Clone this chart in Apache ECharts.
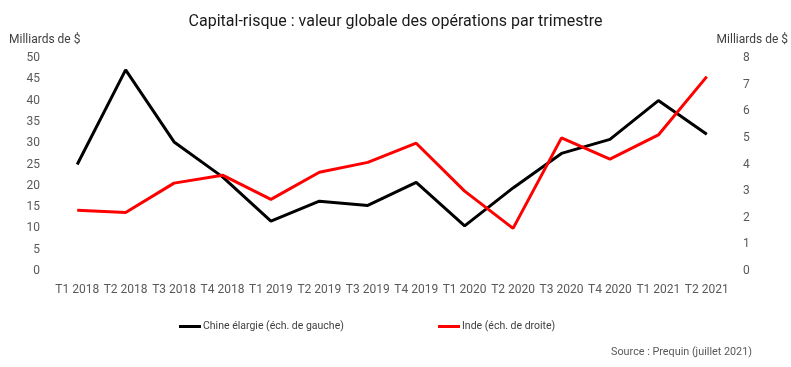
<!DOCTYPE html>
<html><head><meta charset="utf-8">
<script src="https://cdn.jsdelivr.net/npm/echarts@6/dist/echarts.min.js"></script>
<style>html,body{margin:0;padding:0;background:#fff}#c{width:791px;height:367px}</style>
</head><body><div id="c"></div>
<script>
const categories = ["T1 2018","T2 2018","T3 2018","T4 2018","T1 2019","T2 2019","T3 2019","T4 2019","T1 2020","T2 2020","T3 2020","T4 2020","T1 2021","T2 2021"];
const chineValues = [25, 47.2, 30.3, 22.1, 11.7, 16.4, 15.4, 20.8, 10.6, 19.5, 27.6, 30.9, 40.0, 32.1];
const indeValues = [2.28, 2.2, 3.3, 3.6, 2.69, 3.71, 4.08, 4.8, 3.0, 1.6, 5.0, 4.2, 5.11, 7.3];
const leftTicks = [0,5,10,15,20,25,30,35,40,45,50];
const rightTicks = [0,1,2,3,4,5,6,7,8];
const font = "Roboto, 'Liberation Sans', Arial, sans-serif";
const chart = echarts.init(document.getElementById('c'));
chart.setOption({
  animation:false,
  textStyle:{fontFamily:font},
  title:{text:"Capital-risque : valeur globale des opérations par trimestre", left:'center', top:9,
    textStyle:{fontSize:16, fontWeight:'normal', color:'#1a1a1a', fontFamily:font}},
  grid:{left:53, right:57, top:58, bottom:96},
  legend:[
    {data:["Chine élargie (éch. de gauche)"], left:174, top:316, itemWidth:22, itemHeight:3, itemGap:0, icon:'rect',
      textStyle:{fontSize:10.5, color:'#404040', fontFamily:font, padding:[0,0,0,-3]}},
    {data:["Inde (éch. de droite)"], left:433, top:316, itemWidth:22, itemHeight:3, icon:'rect',
      textStyle:{fontSize:10.5, color:'#404040', fontFamily:font, padding:[0,0,0,-3]}}
  ],
  graphic:[{type:'text', right:39, top:347, style:{text:"Source : Prequin (juillet 2021)", fontSize:10.8, fill:'#595959', fontFamily:font}}],
  xAxis:{type:'category', data:categories, boundaryGap:true,
    axisLine:{show:false}, axisTick:{show:false},
    axisLabel:{color:'#595959', fontSize:12, margin:13, interval:0}},
  yAxis:[
    {type:'value', min:leftTicks[0], max:leftTicks[leftTicks.length-1], interval:5, name:"Milliards de $",
      nameLocation:'end', nameGap:12, nameTextStyle:{color:'#404040', fontSize:12, align:'left', padding:[0,0,0,-44]},
      axisLabel:{color:'#595959', fontSize:12, margin:13}, splitLine:{show:false}, axisLine:{show:false}, axisTick:{show:false}},
    {type:'value', min:rightTicks[0], max:rightTicks[rightTicks.length-1], interval:1, name:"Milliards de $",
      nameLocation:'end', nameGap:12, nameTextStyle:{color:'#404040', fontSize:12, align:'right', padding:[0,-57,0,0]},
      axisLabel:{color:'#595959', fontSize:12, margin:12}, splitLine:{show:false}, axisLine:{show:false}, axisTick:{show:false}}
  ],
  series:[
    {name:"Chine élargie (éch. de gauche)", type:'line', yAxisIndex:0, data:chineValues, showSymbol:false, symbol:'none',
      lineStyle:{color:'#000', width:3}, itemStyle:{color:'#000'}},
    {name:"Inde (éch. de droite)", type:'line', yAxisIndex:1, data:indeValues, showSymbol:false, symbol:'none',
      lineStyle:{color:'#ff0000', width:3}, itemStyle:{color:'#ff0000'}}
  ]
});
</script></body></html>
